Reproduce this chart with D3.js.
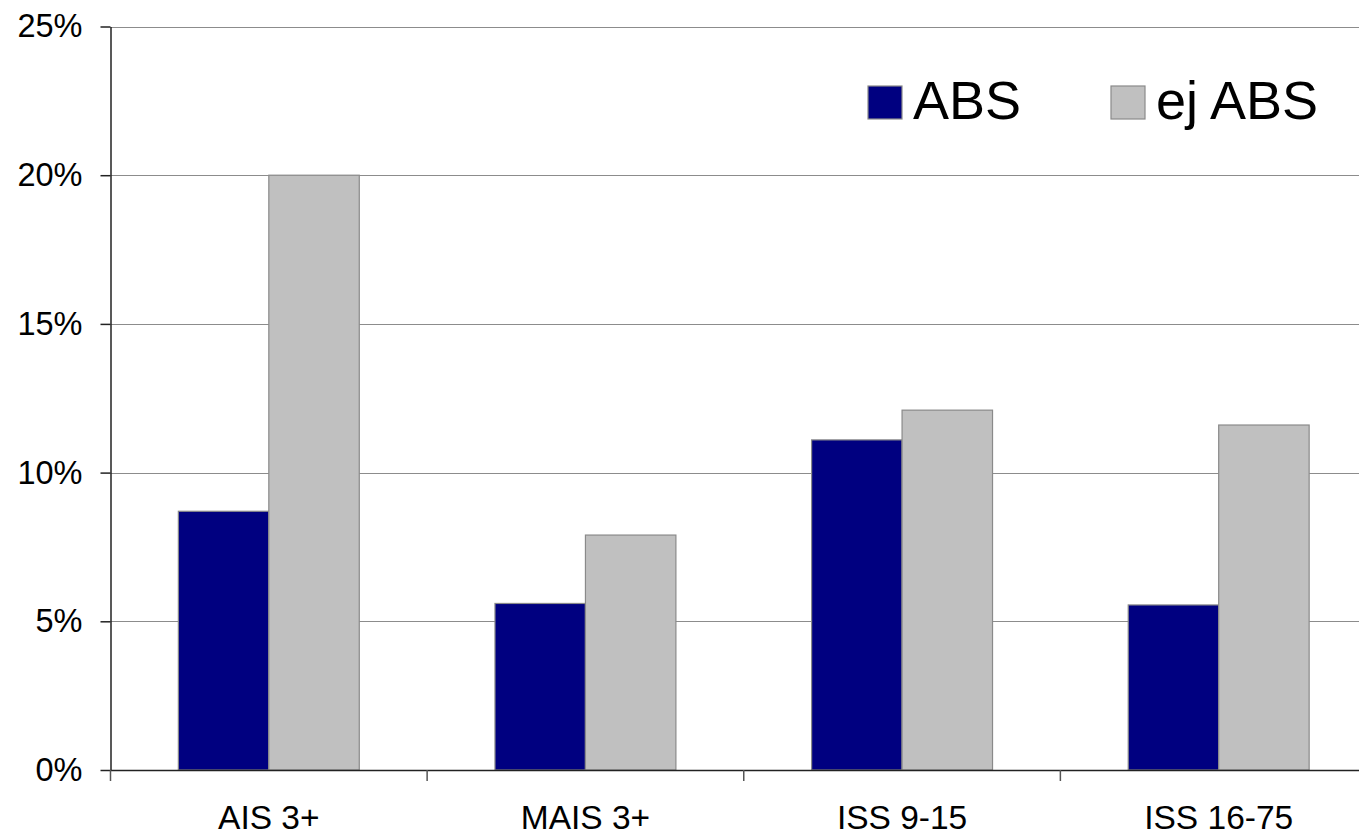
<!DOCTYPE html>
<html>
<head>
<meta charset="utf-8">
<script src="https://cdn.jsdelivr.net/npm/d3@7"></script>
<style>
  html, body { margin: 0; padding: 0; background: #fff; overflow: hidden; }
  svg { display: block; font-family: "Liberation Sans", Arial, sans-serif; }
</style>
</head>
<body>
<svg id="chart" width="1359" height="834"></svg>
<script>
// Injury severity shares with and without ABS
const categories = ["AIS 3+", "MAIS 3+", "ISS 9-15", "ISS 16-75"];
const seriesNames = ["ABS", "ej ABS"];
const absValues = [0.087, 0.056, 0.111, 0.0555];
const ejAbsValues = [0.200, 0.079, 0.121, 0.116];
const yTicks = [0, 0.05, 0.10, 0.15, 0.20, 0.25];
const colors = ["#000080", "#c0c0c0"];

const svg = d3.select("#chart");
const plotLeft = 110.5, plotTop = 26.5, plotBottom = 770, plotRight = 1377;

const x = d3.scaleBand().domain(categories).range([plotLeft, plotRight]).paddingInner(0).paddingOuter(0);
const inner = d3.scaleBand().domain(seriesNames)
  .range([0, x.bandwidth()]).paddingInner(0).paddingOuter(0.75);
const y = d3.scaleLinear().domain([0, 0.25]).range([plotBottom, plotTop]);

// horizontal gridlines
svg.append("g").selectAll("line").data(yTicks.slice(1)).join("line")
  .attr("x1", plotLeft).attr("x2", plotRight)
  .attr("y1", d => Math.round(y(d)) + 0.5).attr("y2", d => Math.round(y(d)) + 0.5)
  .attr("stroke", "#8c8c8c").attr("stroke-width", 1.2);

// bars
const rows = categories.map((c, i) => ({ cat: c, vals: [absValues[i], ejAbsValues[i]] }));
const groups = svg.append("g").selectAll("g").data(rows).join("g")
  .attr("transform", d => `translate(${x(d.cat)},0)`);
groups.selectAll("rect").data(d => d.vals.map((v, j) => ({ v, s: seriesNames[j], j })))
  .join("rect")
  .attr("x", d => inner(d.s))
  .attr("width", inner.bandwidth())
  .attr("y", d => y(d.v))
  .attr("height", d => plotBottom - y(d.v))
  .attr("fill", d => colors[d.j])
  .attr("stroke", "#8a8a8a").attr("stroke-width", 1.2);

// y axis
const yAxis = d3.axisLeft(y).tickValues(yTicks).tickFormat(d3.format(".0%"))
  .tickSizeInner(10).tickSizeOuter(0).tickPadding(18);
const gy = svg.append("g").attr("transform", `translate(${plotLeft},0)`).call(yAxis);
gy.select(".domain").attr("stroke", "#222").attr("stroke-width", 1.5);
gy.selectAll(".tick line").attr("stroke", "#222").attr("stroke-width", 1.5);
gy.selectAll(".tick text").attr("font-size", 32.5).attr("fill", "#000")
  .attr("font-family", "'Liberation Sans', Arial, sans-serif");

// x axis
const xAxis = d3.axisBottom(x).tickSizeInner(0).tickSizeOuter(0).tickPadding(35);
const gx = svg.append("g").attr("transform", `translate(0,${plotBottom})`).call(xAxis);
gx.select(".domain").attr("stroke", "#222").attr("stroke-width", 1.5);
gx.selectAll(".tick text").attr("font-size", 33.5).attr("fill", "#000")
  .attr("font-family", "'Liberation Sans', Arial, sans-serif");
// category separator ticks
const boundaries = categories.map(c => x(c)).concat([plotRight]);
svg.append("g").selectAll("line").data(boundaries).join("line")
  .attr("x1", d => d).attr("x2", d => d)
  .attr("y1", plotBottom).attr("y2", plotBottom + 11)
  .attr("stroke", "#555").attr("stroke-width", 1.5);

// legend
const legendX = [868, 1111];
const legend = svg.append("g").selectAll("g").data(seriesNames).join("g")
  .attr("transform", (d, i) => `translate(${legendX[i]},86)`);
legend.append("rect").attr("width", 34).attr("height", 33)
  .attr("fill", (d, i) => colors[i]).attr("stroke", "#8a8a8a").attr("stroke-width", 1.2);
legend.append("text").attr("x", 45).attr("y", 33)
  .attr("font-size", 54).attr("fill", "#000").text(d => d);
</script>
</body>
</html>
